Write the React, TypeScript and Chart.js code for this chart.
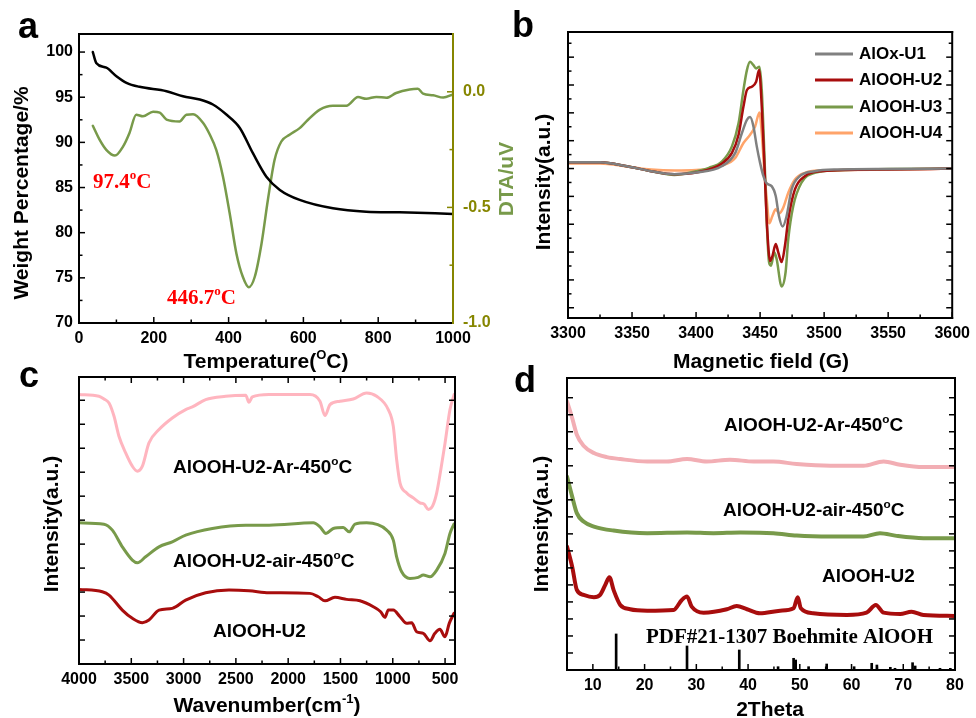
import React, { useEffect, useRef } from "react";
import { Chart, registerables } from "chart.js";

Chart.register(...registerables);

const SANS = '"Liberation Sans", Arial, Helvetica, sans-serif';
const SERIF = '"Liberation Serif", "Times New Roman", Times, serif';
const BLACK = "#000000";
const GREEN = "#789A4A";
const OLIVE = "#868600";
const RED = "#A80D0D";
const GRAY = "#808080";
const ORANGE = "#FFA46A";
const PINK = "#FFB5BF";
const PINK_D = "#F2AEB4";
const TEXT_RED = "#FF0000";

// ---------- Panel a: TGA / DTA ----------
const tgaTemperature = [37, 46, 73, 100, 127, 162, 234, 278, 323, 358, 394, 430, 465, 501, 537, 590, 679, 768, 857, 1000];
const tgaWeight = [100, 98.8, 98.27, 97.33, 96.6, 96.15, 95.67, 95.1, 94.74, 94.19, 93.08, 91.6, 88.8, 86.2, 84.74, 83.63, 82.7, 82.33, 82.26, 82.08];
const dtaTemperature = [37, 55, 73, 96, 118, 135, 153, 171, 198, 216, 234, 269, 287, 305, 332, 350, 367, 385, 403, 421, 438, 454, 470, 488, 505, 523, 541, 563, 590, 608, 644, 679, 715, 746, 768, 795, 822, 848, 884, 906, 920, 947, 974, 1000];
const dtaSignal = [-0.147, -0.207, -0.251, -0.276, -0.236, -0.178, -0.099, -0.106, -0.086, -0.09, -0.12, -0.128, -0.099, -0.097, -0.135, -0.186, -0.251, -0.367, -0.526, -0.7, -0.8, -0.845, -0.8, -0.657, -0.468, -0.294, -0.215, -0.186, -0.157, -0.128, -0.077, -0.06, -0.06, -0.023, -0.03, -0.022, -0.026, -0.005, 0.01, 0.013, -0.008, -0.015, -0.025, -0.011];
const tempMajorTicks = [0, 200, 400, 600, 800, 1000];
const tempMinorTicks = [100, 300, 500, 700, 900];
const weightMajorTicks = [70, 75, 80, 85, 90, 95, 100];
const weightMinorTicks = [72.5, 77.5, 82.5, 87.5, 92.5, 97.5];
const dtaMajorTicks = [-1, -0.5, 0];
const dtaMinorTicks = [-0.75, -0.25];

// ---------- Panel b: EPR ----------
const fieldU1 = [3300, 3325, 3346, 3365, 3383, 3400, 3420, 3430.6, 3435.8, 3439.7, 3442.2, 3444.8, 3447.4, 3450, 3452.6, 3455.2, 3459, 3462.2, 3464.7, 3467.6, 3470.7, 3474.6, 3481, 3492.7, 3510, 3550, 3600];
const eprU1 = [6.3, 6.3, 2.3, -2.7, -5.7, -4, 2.3, 15.7, 35.7, 49, 51.7, 42.3, 22.3, 5.7, -7.7, -15, -17.7, -27.7, -47.7, -58.3, -47.7, -21, -7.7, -2.7, -1, -0.5, 0];
const fieldU2 = [3300, 3325, 3346, 3365, 3383, 3400, 3420.3, 3428, 3433.2, 3437, 3439.7, 3443.5, 3446.9, 3449.2, 3451.3, 3453.4, 3455.4, 3457.8, 3459.6, 3462.2, 3464.2, 3466.8, 3469.4, 3472, 3477.2, 3484.9, 3497.8, 3550, 3600];
const eprU2 = [6.3, 6.3, 2.3, -2.7, -5.7, -4, 5, 15.7, 34, 62.3, 79, 82.3, 87.3, 99, 62.3, 2.3, -57.7, -93, -88, -76, -84.3, -94, -77.7, -51, -21, -7.7, -2.7, -1, 0];
const fieldU3 = [3300, 3325, 3346, 3365, 3383, 3400, 3410, 3420.3, 3428, 3433.2, 3437, 3439.7, 3442.2, 3444.8, 3446.9, 3449.5, 3451.3, 3453.4, 3455.2, 3457, 3458.5, 3461.1, 3462.9, 3466.8, 3469.9, 3472, 3475.9, 3482.3, 3492.7, 3510.7, 3550, 3600];
const eprU3 = [6.3, 6.3, 2.3, -2.7, -6.5, -2.7, 0.7, 7.3, 22.3, 45.7, 79, 99, 107.3, 104, 100.7, 102.3, 79, 12.3, -54.3, -94.3, -97.7, -84.3, -91, -118.5, -104.3, -71, -37.7, -14.3, -4.3, -1.7, -0.5, 0];
const fieldU4 = [3300, 3325, 3346, 3365, 3383, 3400, 3420.3, 3430.6, 3437, 3442.2, 3446.1, 3449.5, 3451.3, 3453.4, 3455.2, 3457.2, 3459.6, 3462.2, 3465, 3468.1, 3472, 3477.2, 3484.9, 3497.8, 3550, 3600];
const eprU4 = [5, 5, 2, -1, -2, -1.5, 3, 10.7, 25.7, 34, 42.3, 56.3, 35.7, -4.3, -31, -55, -47.7, -41, -45, -39.3, -24.3, -11, -4.3, -2, -1, 0];
const fieldMajorTicks = [3300, 3350, 3400, 3450, 3500, 3550, 3600];
const fieldMinorTicks = [3325, 3375, 3425, 3475, 3525, 3575];
const eprSideMajorTicks = [-140, -112, -84, -56, -28, 0, 28, 56, 84, 112];
const eprSideMinorTicks = [-126, -98, -70, -42, -14, 14, 42, 70, 98, 126];

// ---------- Panel c: FTIR ----------
const waveAr = [4000, 3809, 3761, 3713, 3665, 3618, 3554, 3490, 3442, 3394, 3331, 3235, 3108, 2980, 2916, 2789, 2598, 2406, 2375, 2343, 2183, 1792, 1696, 1648, 1600, 1505, 1378, 1250, 1154, 1043, 995, 963, 931, 867, 800, 740, 700, 660, 620, 580, 540, 500, 453, 414];
const irAr = [269.7, 268, 265.3, 261.3, 248, 228, 211.3, 198, 193, 198, 221.3, 234.7, 246.3, 254.7, 257.3, 264.7, 268, 269, 262, 267.3, 269.7, 269.7, 263, 248.7, 259.7, 263, 265.3, 271.3, 268, 254.7, 238, 204.7, 181.3, 171.3, 166, 161.3, 160, 154.7, 158, 171.3, 195, 221.3, 254.7, 269.7];
const waveAir = [4000, 3761, 3681, 3586, 3490, 3442, 3363, 3235, 3108, 2980, 2725, 2406, 2183, 1760, 1696, 1639, 1569, 1473, 1416, 1361, 1250, 1058, 995, 963, 915, 836, 756, 708, 644, 580, 501, 453, 415];
const irAir = [141.3, 140, 134, 117.3, 104, 101.3, 107.3, 117.3, 122.3, 129, 135.7, 139, 139, 141.3, 137.3, 130.7, 135.7, 136.7, 132.3, 140, 141.3, 134, 124, 107.3, 92.3, 85.7, 86.7, 89, 87.3, 94, 110.7, 130.7, 140];
const waveU2 = [4000, 3777, 3713, 3586, 3490, 3394, 3331, 3235, 3108, 2980, 2789, 2566, 2375, 2183, 1792, 1712, 1648, 1553, 1441, 1314, 1186, 1116, 1075, 1043, 995, 931, 867, 819, 772, 708, 644, 597, 549, 501, 460, 415];
const irU2 = [74.7, 72.3, 69, 54, 45.7, 41.3, 44, 54, 55.7, 64, 71.3, 74, 73.3, 71.3, 70.7, 67.3, 63.3, 66.7, 64.7, 63.3, 57.3, 52.3, 46.7, 54, 54, 47.3, 40.7, 41.3, 32.3, 30.7, 23.3, 30.7, 34.7, 27.3, 40.7, 50.7];
const waveMajorTicks = [4000, 3500, 3000, 2500, 2000, 1500, 1000, 500];
const waveMinorTicks = [3750, 3250, 2750, 2250, 1750, 1250, 750];
const irSideTicks = [24, 48, 72, 96, 120, 144, 168, 192, 216, 240, 264];

// ---------- Panel d: XRD ----------
const thetaAr = [5, 6, 6.9, 8.2, 10.2, 12.7, 15.3, 20.5, 24.3, 28.2, 32, 36.5, 41.1, 44.9, 49.4, 55.9, 62.3, 66.2, 69.4, 73.9, 79.9];
const xrdAr = [268.3, 251.7, 235, 224, 216.7, 212.7, 210.7, 208.3, 208.3, 210.7, 208.3, 210, 208.3, 208.3, 205.7, 204, 204, 208.3, 205, 202.7, 202.7];
const thetaAir = [5, 6, 6.9, 8.2, 10.2, 14, 20.5, 28.2, 33.3, 38.5, 44.9, 49.4, 55.9, 62.3, 65.5, 68.7, 73.9, 79.9];
const xrdAir = [193.3, 173.3, 156.7, 148.3, 143.3, 139.3, 136.7, 137.3, 136.7, 137.3, 136.7, 134.3, 133.3, 133.3, 136.7, 134, 131.7, 131.7];
const thetaU2 = [5, 6, 6.9, 8.2, 10.2, 11.4, 12.4, 13.2, 14, 15.3, 17.2, 20.5, 25.6, 27.2, 28.2, 29.1, 31.4, 35.9, 37.8, 39.8, 42.3, 46.2, 48.8, 49.6, 50.2, 52.6, 59.1, 62.9, 64.7, 66.2, 69.4, 71.6, 73.9, 79.9];
const xrdU2 = [123.3, 103.3, 80, 75, 72.7, 75, 85, 92.7, 80, 65, 60.7, 59.3, 60, 70, 73.3, 63.3, 57.3, 60.7, 64, 60.7, 56.7, 59.3, 61.7, 72.7, 61.7, 56.7, 55, 57.3, 65, 57.3, 56, 58.3, 55, 54];
const refTheta = [14.5, 28.2, 38.3, 45.8, 48.8, 49.2, 51.7, 55.2, 60.5, 63.9, 64.9, 67.5, 68.4, 71.8, 72.3, 77.1, 79.1];
const refHeight = [36, 24, 20, 3.3, 11.7, 10, 3.3, 6, 3.3, 6.7, 5, 2.7, 1.7, 7.3, 4, 1.7, 1.7];
const thetaMajorTicks = [10, 20, 30, 40, 50, 60, 70, 80];
const thetaMinorTicks = [15, 25, 35, 45, 55, 65, 75];
const xrdSideTicks = [17, 34, 51, 68, 85, 102, 119, 136, 153, 170, 187, 204, 221, 238, 255, 272];

const zip = (xs: number[], ys: number[]) => xs.map((x, i) => ({ x, y: ys[i] }));

type Part = [string, boolean?];
type TextItem = {
  parts: Part[];
  x: number;
  y: number;
  size: number;
  family?: string;
  color?: string;
  align?: "left" | "center";
  rot?: boolean;
  baseline?: CanvasTextBaseline;
};
type TickSet = { scale: string; side: "left" | "right" | "top" | "bottom"; major: number[]; minor: number[]; color?: string };
type Decor = {
  ticks: TickSet[];
  frame: { top: string; right: string; bottom: string; left: string };
  texts: TextItem[];
  legend?: { x: number; y: number; color: string; label: string }[];
};

function drawText(ctx: CanvasRenderingContext2D, t: TextItem) {
  ctx.save();
  const fam = t.family ?? SANS;
  const fontFor = (sup: boolean) => `bold ${sup ? t.size * 0.62 : t.size}px ${fam}`;
  let total = 0;
  const widths = t.parts.map(([s, sup]) => {
    ctx.font = fontFor(!!sup);
    const w = ctx.measureText(s).width;
    total += w;
    return w;
  });
  ctx.translate(t.x, t.y);
  if (t.rot) ctx.rotate(-Math.PI / 2);
  ctx.fillStyle = t.color ?? BLACK;
  ctx.textBaseline = t.baseline ?? "alphabetic";
  ctx.textAlign = "left";
  let cx = t.align === "center" ? -total / 2 : 0;
  t.parts.forEach(([s, sup], i) => {
    ctx.font = fontFor(!!sup);
    ctx.fillText(s, cx, sup ? -t.size * 0.42 : 0);
    cx += widths[i];
  });
  ctx.restore();
}

function decorPlugin(id: string, d: Decor) {
  return {
    id,
    afterDraw(chart: any) {
      const ctx: CanvasRenderingContext2D = chart.ctx;
      const ca = chart.chartArea;
      ctx.save();
      d.ticks.forEach((ts) => {
        const sc = chart.scales[ts.scale];
        ctx.strokeStyle = ts.color ?? BLACK;
        ctx.lineWidth = 1.5;
        const mark = (v: number, len: number) => {
          const p = sc.getPixelForValue(v);
          ctx.beginPath();
          if (ts.side === "left") { ctx.moveTo(ca.left, p); ctx.lineTo(ca.left + len, p); }
          if (ts.side === "right") { ctx.moveTo(ca.right, p); ctx.lineTo(ca.right - len, p); }
          if (ts.side === "bottom") { ctx.moveTo(p, ca.bottom); ctx.lineTo(p, ca.bottom - len); }
          if (ts.side === "top") { ctx.moveTo(p, ca.top); ctx.lineTo(p, ca.top + len); }
          ctx.stroke();
        };
        ts.major.forEach((v) => mark(v, 6));
        ts.minor.forEach((v) => mark(v, 3.5));
      });
      ctx.lineWidth = 2;
      ctx.lineCap = "square";
      const edge = (c: string, x1: number, y1: number, x2: number, y2: number) => {
        ctx.strokeStyle = c;
        ctx.beginPath();
        ctx.moveTo(x1, y1);
        ctx.lineTo(x2, y2);
        ctx.stroke();
      };
      edge(d.frame.top, ca.left, ca.top, ca.right, ca.top);
      edge(d.frame.bottom, ca.left, ca.bottom, ca.right, ca.bottom);
      edge(d.frame.left, ca.left, ca.top, ca.left, ca.bottom);
      edge(d.frame.right, ca.right, ca.top, ca.right, ca.bottom);
      (d.legend ?? []).forEach((l) => {
        ctx.strokeStyle = l.color;
        ctx.lineWidth = 3;
        ctx.lineCap = "butt";
        ctx.beginPath();
        ctx.moveTo(l.x, l.y);
        ctx.lineTo(l.x + 38, l.y);
        ctx.stroke();
        drawText(ctx, { parts: [[l.label]], x: l.x + 44, y: l.y, size: 17, baseline: "middle" });
      });
      d.texts.forEach((t) => drawText(ctx, t));
      ctx.restore();
    },
  };
}

const tickFont = { family: SANS, size: 16, weight: "bold" as const };

function fixedTicks(values: number[]) {
  return (s: any) => {
    s.ticks = values.map((v) => ({ value: v }));
  };
}

function xScale(min: number, max: number, labels: number[], height: number, extra: any = {}) {
  return {
    type: "linear",
    position: "bottom",
    min,
    max,
    grid: { display: false, drawTicks: false },
    border: { display: false },
    ticks: {
      autoSkip: false,
      maxRotation: 0,
      minRotation: 0,
      padding: 6,
      color: BLACK,
      font: tickFont,
      callback: (v: any) => String(v),
    },
    afterBuildTicks: fixedTicks(labels),
    afterFit: (s: any) => {
      s.height = height;
    },
    ...extra,
  };
}

function hiddenY(min: number, max: number) {
  return {
    type: "linear",
    display: false,
    min,
    max,
    grid: { display: false, drawTicks: false },
    ticks: { display: false },
  };
}

function line(data: any[], color: string, width: number, yAxisID = "y") {
  return {
    type: "line",
    data,
    yAxisID,
    borderColor: color,
    backgroundColor: color,
    borderWidth: width,
    pointRadius: 0,
    fill: false,
    cubicInterpolationMode: "monotone",
    borderJoinStyle: "round",
    borderCapStyle: "round",
  };
}

const baseOptions = {
  responsive: false,
  maintainAspectRatio: false,
  animation: false,
  events: [],
  plugins: { legend: { display: false }, tooltip: { enabled: false }, title: { display: false } },
};

function configA(): any {
  return {
    type: "line",
    data: {
      datasets: [
        line(zip(tgaTemperature, tgaWeight), BLACK, 2.5, "y"),
        line(zip(dtaTemperature, dtaSignal), GREEN, 2.5, "y2"),
      ],
    },
    options: {
      ...baseOptions,
      layout: { padding: { left: 0, top: 34, right: 446, bottom: 353 } },
      scales: {
        x: xScale(0, 1000, tempMajorTicks, 42),
        y: {
          type: "linear",
          position: "left",
          min: 70,
          max: 102,
          grid: { display: false, drawTicks: false },
          border: { display: false },
          ticks: { padding: 6, color: BLACK, font: tickFont, callback: (v: any) => String(v) },
          afterBuildTicks: fixedTicks(weightMajorTicks),
          afterFit: (s: any) => {
            s.width = 79;
          },
        },
        y2: {
          type: "linear",
          position: "right",
          min: -1,
          max: 0.25,
          grid: { display: false, drawTicks: false },
          border: { display: false },
          ticks: { padding: 10, color: OLIVE, font: tickFont, callback: (v: any) => Number(v).toFixed(1) },
          afterBuildTicks: fixedTicks(dtaMajorTicks),
          afterFit: (s: any) => {
            s.width = 77;
          },
        },
      },
    },
    plugins: [
      decorPlugin("decorA", {
        ticks: [
          { scale: "x", side: "bottom", major: tempMajorTicks, minor: tempMinorTicks },
          { scale: "y", side: "left", major: weightMajorTicks, minor: weightMinorTicks },
          { scale: "y2", side: "right", major: dtaMajorTicks, minor: dtaMinorTicks, color: OLIVE },
        ],
        frame: { top: BLACK, bottom: BLACK, left: BLACK, right: OLIVE },
        texts: [
          { parts: [["a"]], x: 18, y: 38, size: 36 },
          { parts: [["Weight Percentage/%"]], x: 22, y: 193, size: 21, rot: true, align: "center", baseline: "middle" },
          { parts: [["Temperature("], ["O", true], ["C)"]], x: 266, y: 368, size: 21, align: "center" },
          { parts: [["DTA/uV"]], x: 507, y: 179, size: 21, rot: true, align: "center", baseline: "middle", color: GREEN },
          { parts: [["97.4"], ["o", true], ["C"]], x: 93, y: 188, size: 21, family: SERIF, color: TEXT_RED },
          { parts: [["446.7"], ["o", true], ["C"]], x: 167, y: 304, size: 21, family: SERIF, color: TEXT_RED },
        ],
      }),
    ],
  };
}

function configB(): any {
  return {
    type: "line",
    data: {
      datasets: [
        line(zip(fieldU1, eprU1), GRAY, 2.5),
        line(zip(fieldU2, eprU2), RED, 2.5),
        line(zip(fieldU3, eprU3), GREEN, 2.5),
        line(zip(fieldU4, eprU4), ORANGE, 2.5),
      ],
    },
    options: {
      ...baseOptions,
      layout: { padding: { left: 568, top: 32, right: 21, bottom: 360 } },
      scales: {
        x: xScale(3300, 3600, fieldMajorTicks, 40),
        y: hiddenY(-150.3, 137.3),
      },
    },
    plugins: [
      decorPlugin("decorB", {
        ticks: [
          { scale: "x", side: "bottom", major: fieldMajorTicks, minor: fieldMinorTicks },
          { scale: "y", side: "left", major: eprSideMajorTicks, minor: eprSideMinorTicks },
          { scale: "y", side: "right", major: eprSideMajorTicks, minor: eprSideMinorTicks },
        ],
        frame: { top: BLACK, bottom: BLACK, left: BLACK, right: BLACK },
        legend: [
          { x: 815, y: 54, color: GRAY, label: "AlOx-U1" },
          { x: 815, y: 80, color: RED, label: "AlOOH-U2" },
          { x: 815, y: 107, color: GREEN, label: "AlOOH-U3" },
          { x: 815, y: 133, color: ORANGE, label: "AlOOH-U4" },
        ],
        texts: [
          { parts: [["b"]], x: 512, y: 37, size: 36 },
          { parts: [["Intensity(a.u.)"]], x: 544, y: 182, size: 21, rot: true, align: "center", baseline: "middle" },
          { parts: [["Magnetic field (G)"]], x: 761, y: 368, size: 21, align: "center" },
        ],
      }),
    ],
  };
}

function configC(): any {
  return {
    type: "line",
    data: {
      datasets: [
        line(zip(waveAr, irAr), PINK, 3),
        line(zip(waveAir, irAir), GREEN, 3),
        line(zip(waveU2, irU2), RED, 3),
      ],
    },
    options: {
      ...baseOptions,
      layout: { padding: { left: 79, top: 377, right: 521, bottom: 14 } },
      scales: {
        x: xScale(405, 4000, waveMajorTicks, 40, { reverse: true }),
        y: hiddenY(0, 287.3),
      },
    },
    plugins: [
      decorPlugin("decorC", {
        ticks: [
          { scale: "x", side: "bottom", major: waveMajorTicks, minor: waveMinorTicks },
          { scale: "x", side: "top", major: waveMajorTicks, minor: waveMinorTicks },
          { scale: "y", side: "left", major: irSideTicks, minor: [] },
          { scale: "y", side: "right", major: irSideTicks, minor: [] },
        ],
        frame: { top: BLACK, bottom: BLACK, left: BLACK, right: BLACK },
        texts: [
          { parts: [["c"]], x: 19, y: 387, size: 36 },
          { parts: [["Intensity(a.u.)"]], x: 52, y: 524, size: 21, rot: true, align: "center", baseline: "middle" },
          { parts: [["Wavenumber(cm"], ["-1", true], [")"]], x: 267, y: 712, size: 21, align: "center" },
          { parts: [["AlOOH-U2-Ar-450"], ["o", true], ["C"]], x: 173, y: 473, size: 19 },
          { parts: [["AlOOH-U2-air-450"], ["o", true], ["C"]], x: 173, y: 567, size: 19 },
          { parts: [["AlOOH-U2"]], x: 213, y: 637, size: 19 },
        ],
      }),
    ],
  };
}

function configD(): any {
  return {
    type: "line",
    data: {
      datasets: [
        line(zip(thetaAr, xrdAr), PINK_D, 4),
        line(zip(thetaAir, xrdAir), GREEN, 4),
        line(zip(thetaU2, xrdU2), RED, 4),
        {
          type: "bar",
          data: zip(refTheta, refHeight),
          yAxisID: "y",
          backgroundColor: BLACK,
          borderWidth: 0,
          barThickness: 2,
        },
      ],
    },
    options: {
      ...baseOptions,
      layout: { padding: { left: 567, top: 378, right: 21, bottom: 8 } },
      scales: {
        x: xScale(5, 80, thetaMajorTicks, 40, { offset: false }),
        y: hiddenY(0, 291.7),
      },
    },
    plugins: [
      decorPlugin("decorD", {
        ticks: [
          { scale: "x", side: "bottom", major: thetaMajorTicks, minor: thetaMinorTicks },
          { scale: "y", side: "left", major: xrdSideTicks, minor: [] },
          { scale: "y", side: "right", major: xrdSideTicks, minor: [] },
        ],
        frame: { top: BLACK, bottom: BLACK, left: BLACK, right: BLACK },
        texts: [
          { parts: [["d"]], x: 514, y: 392, size: 36 },
          { parts: [["Intensity(a.u.)"]], x: 542, y: 524, size: 21, rot: true, align: "center", baseline: "middle" },
          { parts: [["2Theta"]], x: 770, y: 716, size: 21, align: "center" },
          { parts: [["AlOOH-U2-Ar-450"], ["o", true], ["C"]], x: 724, y: 431, size: 19 },
          { parts: [["AlOOH-U2-air-450"], ["o", true], ["C"]], x: 723, y: 516, size: 19 },
          { parts: [["AlOOH-U2"]], x: 822, y: 582, size: 19 },
          { parts: [["PDF#21-1307 Boehmite AlOOH"]], x: 646, y: 643, size: 21, family: SERIF },
        ],
      }),
    ],
  };
}

export default function App() {
  const refA = useRef<HTMLCanvasElement>(null);
  const refB = useRef<HTMLCanvasElement>(null);
  const refC = useRef<HTMLCanvasElement>(null);
  const refD = useRef<HTMLCanvasElement>(null);

  useEffect(() => {
    const charts: Chart[] = [];
    const pairs: [HTMLCanvasElement | null, () => any][] = [
      [refA.current, configA],
      [refB.current, configB],
      [refC.current, configC],
      [refD.current, configD],
    ];
    pairs.forEach(([c, cfg]) => {
      if (c) charts.push(new Chart(c, cfg()));
    });
    return () => charts.forEach((ch) => ch.destroy());
  }, []);

  const canvasStyle: React.CSSProperties = { position: "absolute", left: 0, top: 0, width: 976, height: 718 };
  return (
    <div style={{ position: "fixed", left: 0, top: 0, width: 976, height: 718, background: "#ffffff", overflow: "hidden" }}>
      <canvas ref={refA} width={976} height={718} style={canvasStyle} />
      <canvas ref={refB} width={976} height={718} style={canvasStyle} />
      <canvas ref={refC} width={976} height={718} style={canvasStyle} />
      <canvas ref={refD} width={976} height={718} style={canvasStyle} />
    </div>
  );
}
